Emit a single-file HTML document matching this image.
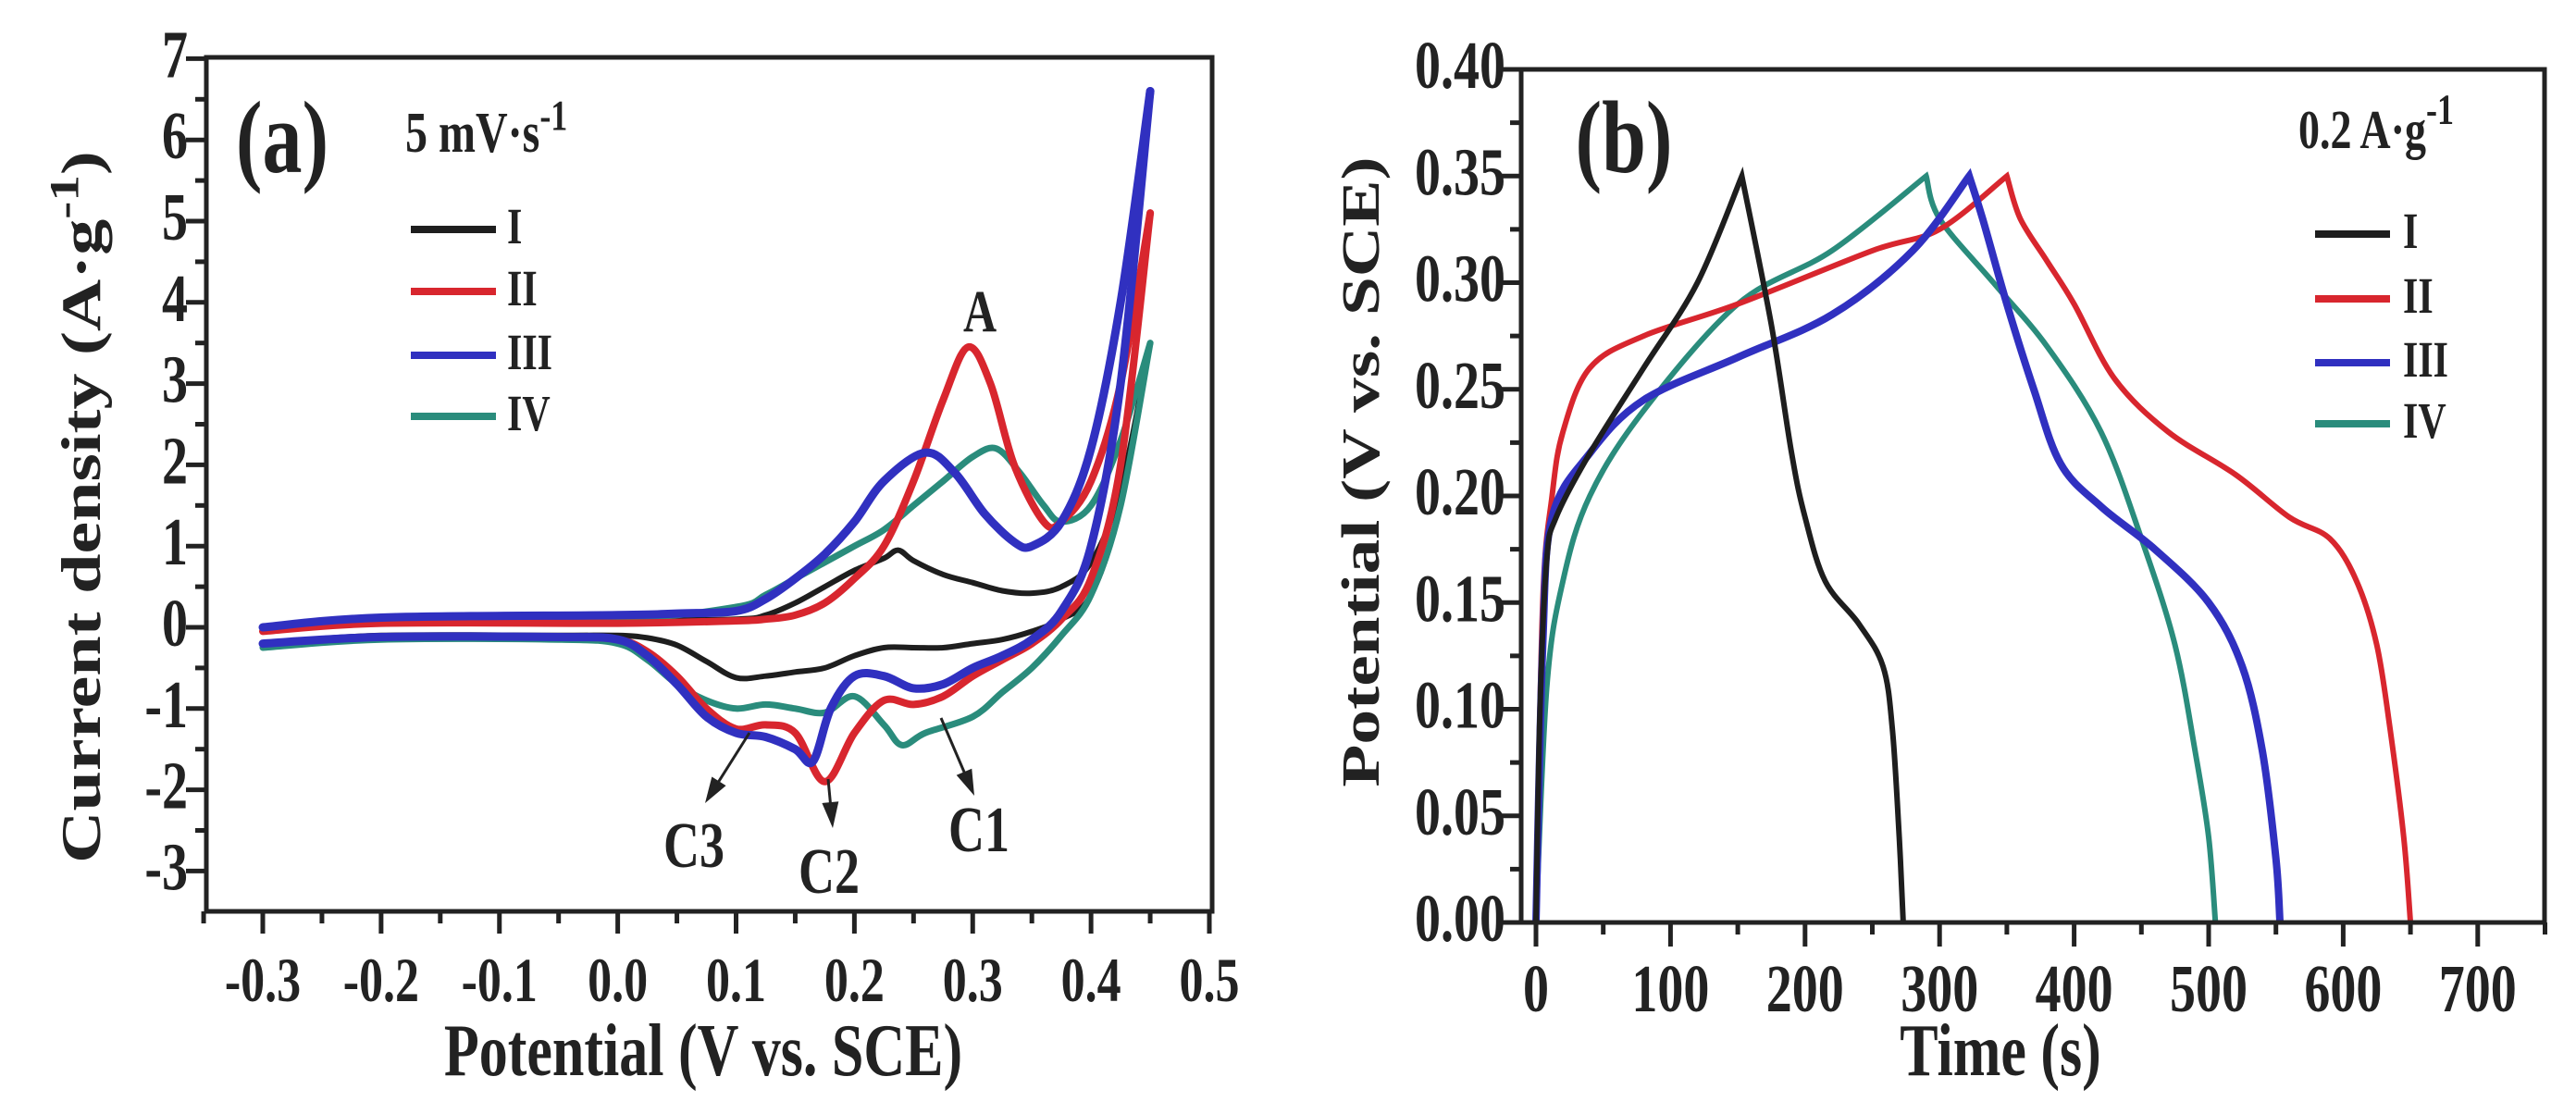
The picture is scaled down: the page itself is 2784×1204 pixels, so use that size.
<!DOCTYPE html>
<html><head><meta charset="utf-8"><style>
html,body{margin:0;padding:0;background:#fff;}
svg{display:block;font-family:"Liberation Serif",serif;font-weight:bold;}
</style></head><body>
<svg id="fig" width="2784" height="1204" viewBox="0 0 2784 1204" xmlns="http://www.w3.org/2000/svg">
<g id="pa"></g>
<g id="pb"></g>
</svg>
<script>
// ---------- Panel (a) CV data ----------
const cvSeriesNames = ["I","II","III","IV"];
const cvColors = ["#1e1e1e","#d8262e","#3030c0","#2a8c7c"];
const cvWidths = [6,8,9,7];
const upE_I = [-0.3,-0.2,0.0,0.1,0.125,0.15,0.175,0.2,0.225,0.237,0.25,0.275,0.3,0.325,0.35,0.375,0.4,0.425,0.45];
const upJ_I = [-0.05,0.05,0.08,0.1,0.15,0.3,0.5,0.7,0.85,0.95,0.82,0.65,0.55,0.45,0.42,0.5,0.8,1.7,3.5];
const dnE_I = [-0.3,-0.2,-0.05,0.0,0.025,0.05,0.075,0.1,0.125,0.15,0.175,0.2,0.225,0.25,0.275,0.3,0.325,0.35,0.375,0.4,0.425,0.45];
const dnJ_I = [-0.2,-0.1,-0.1,-0.1,-0.13,-0.22,-0.42,-0.62,-0.6,-0.55,-0.5,-0.35,-0.25,-0.25,-0.25,-0.2,-0.15,-0.05,0.1,0.4,1.5,3.5];
const upE_II = [-0.3,-0.2,0.0,0.1,0.125,0.15,0.175,0.2,0.225,0.25,0.275,0.296,0.315,0.335,0.36,0.375,0.4,0.425,0.45];
const upJ_II = [-0.05,0.05,0.05,0.08,0.1,0.15,0.3,0.6,1.0,1.8,2.8,3.45,3.0,2.0,1.3,1.3,1.8,3.0,5.1];
const dnE_II = [-0.3,-0.2,-0.05,0.0,0.025,0.05,0.075,0.1,0.125,0.15,0.175,0.2,0.225,0.25,0.275,0.3,0.325,0.35,0.375,0.4,0.425,0.45];
const dnJ_II = [-0.2,-0.12,-0.12,-0.15,-0.3,-0.6,-1.0,-1.25,-1.2,-1.3,-1.9,-1.3,-0.9,-0.95,-0.85,-0.6,-0.4,-0.2,0.1,0.6,2.0,5.1];
const upE_III = [-0.3,-0.2,0.0,0.05,0.1,0.125,0.15,0.175,0.2,0.225,0.26,0.285,0.31,0.335,0.35,0.375,0.4,0.425,0.45];
const upJ_III = [0.0,0.12,0.15,0.17,0.2,0.35,0.6,0.9,1.3,1.8,2.15,1.9,1.4,1.05,1.0,1.3,2.2,4.0,6.6];
const dnE_III = [-0.3,-0.2,-0.05,0.0,0.025,0.05,0.075,0.1,0.125,0.15,0.165,0.18,0.2,0.225,0.25,0.275,0.3,0.325,0.35,0.375,0.4,0.425,0.45];
const dnJ_III = [-0.2,-0.12,-0.12,-0.15,-0.35,-0.7,-1.1,-1.3,-1.35,-1.5,-1.65,-1.0,-0.6,-0.6,-0.75,-0.7,-0.5,-0.35,-0.15,0.2,1.0,3.0,6.6];
const upE_IV = [-0.3,-0.2,0.0,0.1,0.125,0.15,0.175,0.2,0.225,0.25,0.275,0.3,0.32,0.34,0.36,0.375,0.4,0.425,0.45];
const upJ_IV = [-0.05,0.08,0.1,0.25,0.4,0.6,0.8,1.0,1.2,1.5,1.8,2.1,2.2,1.9,1.5,1.3,1.5,2.3,3.5];
const dnE_IV = [-0.3,-0.2,-0.05,0.0,0.025,0.05,0.075,0.1,0.125,0.15,0.175,0.2,0.225,0.24,0.26,0.3,0.325,0.35,0.375,0.4,0.425,0.45];
const dnJ_IV = [-0.25,-0.15,-0.15,-0.2,-0.4,-0.7,-0.9,-1.0,-0.95,-1.0,-1.05,-0.85,-1.2,-1.45,-1.3,-1.1,-0.8,-0.5,-0.1,0.4,1.5,3.5];
const cvXTicks = [-0.3,-0.2,-0.1,0.0,0.1,0.2,0.3,0.4,0.5];
const cvXTickLabels = ["-0.3","-0.2","-0.1","0.0","0.1","0.2","0.3","0.4","0.5"];
const cvYTicks = [-3,-2,-1,0,1,2,3,4,5,6,7];

// ---------- Panel (b) GCD data ----------
const gcdNames = ["I","II","III","IV"];
const gcdColors = ["#1e1e1e","#d8262e","#3030c0","#2a8c7c"];
const gcdWidths = [6,6,8,6];
const chT_I = [0,3,8,15,40,80,120,153];
const chV_I = [0,0.1,0.17,0.19,0.22,0.26,0.3,0.35];
const dcT_I = [153,175,190,200,215,240,258,265,270,273];
const dcV_I = [0.35,0.28,0.22,0.19,0.16,0.14,0.12,0.09,0.04,0];
const chT_II = [0,5,12,20,40,80,150,250,300,350];
const chV_II = [0,0.15,0.2,0.23,0.26,0.275,0.29,0.315,0.325,0.35];
const dcT_II = [350,360,380,400,430,470,520,560,590,610,625,635,645,650];
const dcV_II = [0.35,0.33,0.31,0.29,0.255,0.23,0.21,0.19,0.18,0.16,0.13,0.09,0.04,0];
const chT_III = [0,5,12,40,80,150,220,280,322];
const chV_III = [0,0.13,0.19,0.22,0.245,0.265,0.285,0.315,0.35];
const dcT_III = [322,332,350,370,390,420,460,500,525,540,550,553];
const dcV_III = [0.35,0.33,0.29,0.25,0.215,0.195,0.175,0.15,0.12,0.08,0.03,0];
const chT_IV = [0,8,20,40,80,150,220,290];
const chV_IV = [0,0.11,0.16,0.2,0.24,0.29,0.315,0.35];
const dcT_IV = [290,300,340,380,420,450,475,490,500,505];
const dcV_IV = [0.35,0.33,0.3,0.27,0.23,0.18,0.13,0.08,0.04,0];
const gcdXTicks = [0,100,200,300,400,500,600,700];
const gcdYTicks = [0,0.05,0.10,0.15,0.20,0.25,0.30,0.35,0.40];
const gcdYTickLabels = ["0.00","0.05","0.10","0.15","0.20","0.25","0.30","0.35","0.40"];

const NS="http://www.w3.org/2000/svg";
function mk(tag,parent,attrs){const e=document.createElementNS(NS,tag);for(const k in attrs)e.setAttribute(k,attrs[k]);parent.appendChild(e);return e;}
function smooth(pts){
  let d="M"+pts[0][0].toFixed(1)+","+pts[0][1].toFixed(1);
  for(let i=0;i<pts.length-1;i++){
    const p0=pts[Math.max(0,i-1)],p1=pts[i],p2=pts[i+1],p3=pts[Math.min(pts.length-1,i+2)];
    const c1=[p1[0]+(p2[0]-p0[0])/6,p1[1]+(p2[1]-p0[1])/6];
    const c2=[p2[0]-(p3[0]-p1[0])/6,p2[1]-(p3[1]-p1[1])/6];
    d+="C"+c1[0].toFixed(1)+","+c1[1].toFixed(1)+" "+c2[0].toFixed(1)+","+c2[1].toFixed(1)+" "+p2[0].toFixed(1)+","+p2[1].toFixed(1);
  }
  return d;
}
function txt(parent,x,y,s,size,anchor,sy,rot){
  const t=mk("text",parent,{"font-size":size,"text-anchor":anchor||"middle",fill:"#222",
    transform:"translate("+x+","+y+")"+(rot?" rotate("+rot+")":"")+" scale(1,"+(sy||1.3)+")"});
  t.textContent=s;return t;
}

// ===== Panel A =====
const pa=document.getElementById("pa");
const aL=223,aR=1310,aT=62,aB=985;
const ax=v=>284+(v+0.3)*(1307-284)/0.8;
const ay=v=>678-v*87.8;
const cvUpE=[upE_I,upE_II,upE_III,upE_IV],cvUpJ=[upJ_I,upJ_II,upJ_III,upJ_IV];
const cvDnE=[dnE_I,dnE_II,dnE_III,dnE_IV],cvDnJ=[dnJ_I,dnJ_II,dnJ_III,dnJ_IV];
[0,3,1,2].forEach(s=>{
  const up=cvUpE[s].map((e,i)=>[ax(e),ay(cvUpJ[s][i])]);
  const dn=cvDnE[s].map((e,i)=>[ax(e),ay(cvDnJ[s][i])]);
  const p1=mk("path",pa,{d:smooth(up),fill:"none",stroke:cvColors[s],"stroke-width":cvWidths[s],"stroke-linecap":"round"});
  
  
  const p2=mk("path",pa,{d:smooth(dn),fill:"none",stroke:cvColors[s],"stroke-width":cvWidths[s],"stroke-linecap":"round"});
  
  
});
const fa=mk("rect",pa,{x:aL,y:aT,width:aR-aL,height:aB-aT,fill:"none",stroke:"#222","stroke-width":5});


cvXTicks.forEach((v,i)=>{
  mk("line",pa,{x1:ax(v),x2:ax(v),y1:aB,y2:aB+24,stroke:"#222","stroke-width":5});
  if(i<cvXTicks.length-1) mk("line",pa,{x1:ax(v+0.05),x2:ax(v+0.05),y1:aB,y2:aB+13,stroke:"#222","stroke-width":5});
  const t=txt(pa,ax(v),1082,cvXTickLabels[i],52);
  
  
});
mk("line",pa,{x1:ax(-0.35),x2:ax(-0.35),y1:aB,y2:aB+13,stroke:"#222","stroke-width":5});
cvYTicks.forEach((v,i)=>{
  mk("line",pa,{x1:aL-22,x2:aL,y1:ay(v),y2:ay(v),stroke:"#222","stroke-width":5});
  if(i<cvYTicks.length-1) mk("line",pa,{x1:aL-12,x2:aL,y1:ay(v+0.5),y2:ay(v+0.5),stroke:"#222","stroke-width":5});
  const t=txt(pa,203,ay(v)+20,String(v),56,"end");
  
  
});
let t;
t=txt(pa,760,1162,"Potential (V vs. SCE)",62);


t=mk("text",pa,{"font-size":60,"text-anchor":"middle",fill:"#222",transform:"translate(108,548) rotate(-90) scale(1.3,1)"});
t.innerHTML='Current density (A·g<tspan dy="-24" font-size="44">-1</tspan><tspan dy="24">)</tspan>';


t=txt(pa,305,186,"(a)",86);


t=mk("text",pa,{"font-size":48,"text-anchor":"start",fill:"#222",transform:"translate(438,164) scale(1,1.3)"});
t.innerHTML='5 mV·s<tspan dy="-18" font-size="36">-1</tspan>';


const legYa=[248,315,384,450];
cvSeriesNames.forEach((n,i)=>{
  const l=mk("line",pa,{x1:444,x2:536,y1:legYa[i],y2:legYa[i],stroke:cvColors[i],"stroke-width":8});
  
  
  const tt=txt(pa,548,legYa[i]+15,n,42,"start");
  
  
});
t=txt(pa,1059,358,"A",50);


const ann=[["C3",750,937,810,792,762,868],["C2",896,965,895,842,900,895],["C1",1058,920,1017,776,1053,860]];
ann.forEach(a=>{
  const tt=txt(pa,a[1],a[2],a[0],54);
  
  
  const dx=a[5]-a[3],dy=a[6]-a[4],L=Math.hypot(dx,dy),ux=dx/L,uy=dy/L;
  const ln=mk("line",pa,{x1:a[3],y1:a[4],x2:a[5]-ux*20,y2:a[6]-uy*20,stroke:"#222","stroke-width":3});
  
  
  const bx=a[5]-ux*28,by=a[6]-uy*28;
  mk("polygon",pa,{points:a[5]+","+a[6]+" "+(bx-uy*9)+","+(by+ux*9)+" "+(bx+uy*9)+","+(by-ux*9),fill:"#222"});
});

// ===== Panel B =====
const pb=document.getElementById("pb");
const bL=1644,bR=2750,bT=75,bB=997;
const bx=v=>1660+v*1.454;
const by=v=>997-v*(997-75)/0.40;
const chT=[chT_I,chT_II,chT_III,chT_IV],chV=[chV_I,chV_II,chV_III,chV_IV];
const dcT=[dcT_I,dcT_II,dcT_III,dcT_IV],dcV=[dcV_I,dcV_II,dcV_III,dcV_IV];
[3,1,2,0].forEach(s=>{
  const c=chT[s].map((x,i)=>[bx(x),by(chV[s][i])]);
  const d=dcT[s].map((x,i)=>[bx(x),by(dcV[s][i])]);
  const p=mk("path",pb,{d:smooth(c)+" "+smooth(d).replace("M","L"),fill:"none",stroke:gcdColors[s],"stroke-width":gcdWidths[s],"stroke-linejoin":"miter"});
  
  
});
const fb=mk("rect",pb,{x:bL,y:bT,width:bR-bL,height:bB-bT,fill:"none",stroke:"#222","stroke-width":5});


gcdXTicks.forEach((v,i)=>{
  mk("line",pb,{x1:bx(v),x2:bx(v),y1:bB,y2:bB+26,stroke:"#222","stroke-width":5});
  mk("line",pb,{x1:bx(v+50),x2:bx(v+50),y1:bB,y2:bB+13,stroke:"#222","stroke-width":5});
  const tt=txt(pb,bx(v),1093,String(v),56);
  
  
});
gcdYTicks.forEach((v,i)=>{
  mk("line",pb,{x1:bL-22,x2:bL,y1:by(v),y2:by(v),stroke:"#222","stroke-width":5});
  if(i<gcdYTicks.length-1) mk("line",pb,{x1:bL-12,x2:bL,y1:by(v+0.025),y2:by(v+0.025),stroke:"#222","stroke-width":5});
  const tt=txt(pb,1627,by(v)+20,gcdYTickLabels[i],56,"end");
  
  
});
t=txt(pb,2162,1162,"Time (s)",62);


t=mk("text",pb,{"font-size":58,"text-anchor":"middle",fill:"#222",transform:"translate(1490,510) rotate(-90) scale(1.3,1)"});
t.textContent="Potential (V vs. SCE)";


t=txt(pb,1755,186,"(b)",86);


t=mk("text",pb,{"font-size":46,"text-anchor":"start",fill:"#222",transform:"translate(2484,160) scale(1,1.3)"});
t.innerHTML='0.2 A·g<tspan dy="-20" font-size="36">-1</tspan>';


const legYb=[253,323,392,458];
gcdNames.forEach((n,i)=>{
  const l=mk("line",pb,{x1:2502,x2:2583,y1:legYb[i],y2:legYb[i],stroke:gcdColors[i],"stroke-width":8});
  
  
  const tt=txt(pb,2597,legYb[i]+15,n,42,"start");
  
  
});
</script>
</body></html>
